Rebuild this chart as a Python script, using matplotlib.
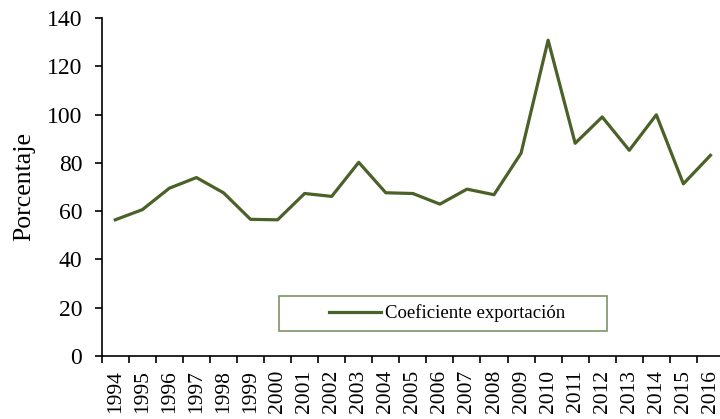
import numpy as np
import matplotlib
matplotlib.use("Agg")
import matplotlib.pyplot as plt
from matplotlib.patches import Rectangle

# ── data ─────────────────────────────────────────────────────────────────────
years = [str(y) for y in range(1994, 2017)]
coef = [56.4, 60.6, 69.5, 73.9, 67.6, 56.6, 56.4, 67.3, 66.1, 80.2, 67.6, 67.3,
        62.9, 69.1, 66.8, 84.0, 130.8, 88.1, 99.0, 85.2, 99.9, 71.3, 83.1]

GREEN = "#4A6127"

plt.rcParams["font.family"] = ["Liberation Serif", "DejaVu Serif"]

fig = plt.figure(figsize=(7.2, 4.19), dpi=100)
# axes runs a little past the right edge, like the source image
ax = fig.add_axes([0.1413, 0.1504, 0.8642, 0.8067])

x = np.arange(len(years))
ax.plot(x, coef, color=GREEN, lw=2.3, label="Coeficiente exportación")

ax.set_xlim(-0.5, len(years) - 0.5)
ax.set_ylim(0, 140)
ax.set_yticks(np.arange(0, 141, 20))
ax.set_xticks(x)
ax.set_xticklabels(years, rotation=90, fontsize=15.5, va="top")
ax.set_xticks(np.arange(-0.5, len(years), 1), minor=True)
ax.tick_params(axis="x", which="major", length=0, pad=10)
ax.tick_params(axis="x", which="minor", length=5, width=1.2, direction="out")
ax.tick_params(axis="y", labelsize=17, length=5, width=1.2, direction="out", pad=9)
ax.set_ylabel("Porcentaje", fontsize=18.5, labelpad=8)

for s in ("top", "right"):
    ax.spines[s].set_visible(False)
for s in ("left", "bottom"):
    ax.spines[s].set_linewidth(1.2)

# legend box
ax.add_patch(Rectangle((0.285, 0.074), 0.527, 0.1035, transform=ax.transAxes,
                       fill=False, edgecolor="#7d9464", lw=1.2, zorder=3))
ax.legend(loc="center", bbox_to_anchor=(0.555, 0.1257), frameon=False,
          fontsize=13.5, handlelength=2.8, handletextpad=0.2)

fig.savefig("out.png", dpi=100)
